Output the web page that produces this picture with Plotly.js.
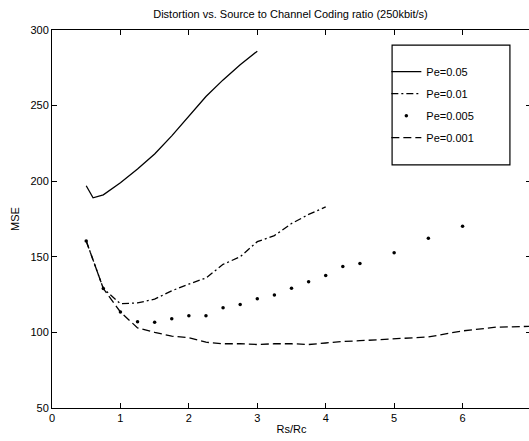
<!DOCTYPE html>
<html>
<head>
<meta charset="utf-8">
<script src="https://cdn.plot.ly/plotly-3.0.1.min.js"></script>
<style>
html,body{margin:0;padding:0;overflow:hidden;background:#fff;}
#chart{width:533px;height:441px;}
</style>
</head>
<body>
<div id="chart"></div>
<script>
// Data
const seriesNames = ["Pe=0.05", "Pe=0.01", "Pe=0.005", "Pe=0.001"];

const xPe005 = [0.5, 0.6, 0.75, 1.0, 1.25, 1.5, 1.75, 2.0, 2.25, 2.5, 2.75, 3.0];
const yPe005 = [197, 189, 191, 199, 208, 218, 230, 243, 256, 267, 277, 286];

const xPe001 = [0.5, 0.75, 1.0, 1.25, 1.5, 1.75, 2.0, 2.25, 2.5, 2.75, 3.0, 3.25, 3.5, 3.75, 4.0];
const yPe001 = [160.5, 129, 119, 119.5, 122, 127.5, 132, 136, 145, 150, 160, 164, 172, 178, 183];

const xPe0005 = [0.5, 0.75, 1.0, 1.25, 1.5, 1.75, 2.0, 2.25, 2.5, 2.75, 3.0, 3.25, 3.5, 3.75, 4.0, 4.25, 4.5, 5.0, 5.5, 6.0];
const yPe0005 = [160.5, 129, 113.5, 107, 106.7, 109, 111, 111, 116.3, 118.5, 122.2, 124.8, 129.2, 133.5, 137.6, 143.6, 145.5, 152.6, 162.3, 170.2];

const xPe0001 = [0.5, 0.75, 1.0, 1.25, 1.5, 1.75, 2.0, 2.25, 2.5, 2.75, 3.0, 3.25, 3.5, 3.75, 4.0, 4.25, 4.5, 5.0, 5.5, 6.0, 6.5, 7.0];
const yPe0001 = [160.5, 129, 113.5, 103, 100, 97.5, 96.5, 93.5, 92.5, 92.5, 92, 92.5, 92.5, 92, 93, 94, 94.5, 95.6, 97, 101, 103.5, 104];

const xTicks = [0, 1, 2, 3, 4, 5, 6, 7];
const yTicks = [50, 100, 150, 200, 250, 300];

const FONT = "Arial, 'Liberation Sans', Helvetica, sans-serif";

const traces = [
  {x: xPe005, y: yPe005, name: seriesNames[0], mode: "lines", legendgroup: "a",
   line: {color: "#000", width: 1.3}},
  {x: xPe001, y: yPe001, name: seriesNames[1], mode: "lines", legendgroup: "b",
   line: {color: "#000", width: 1.3, dash: "7px,3px,2px,3px"}},
  {x: xPe0005, y: yPe0005, name: seriesNames[2], mode: "markers", legendgroup: "c",
   marker: {color: "#000", size: 3.5}},
  {x: xPe0001, y: yPe0001, name: seriesNames[3], mode: "lines", legendgroup: "d",
   line: {color: "#000", width: 1.3, dash: "8px,4px"}}
];

const layout = {
  width: 533, height: 441,
  margin: {l: 52, r: 2, t: 30, b: 33},
  paper_bgcolor: "#fff", plot_bgcolor: "#fff",
  font: {family: FONT, size: 11, color: "#000"},
  title: {text: "Distortion vs. Source to Channel Coding ratio (250kbit/s)",
          font: {family: FONT, size: 11, color: "#000"}, x: 0.545, xanchor: "center", y: 0.968, yanchor: "middle"},
  showlegend: true,
  legend: {x: 0.698, y: 0.928, xanchor: "left", yanchor: "top", bgcolor: "rgba(0,0,0,0)",
           borderwidth: 0, traceorder: "grouped", tracegroupgap: 3,
           font: {family: FONT, size: 11, color: "#000"}},
  shapes: [{type: "rect", xref: "paper", yref: "paper", x0: 0.71, x1: 0.956, y0: 0.643, y1: 0.96,
            line: {color: "#000", width: 1.2}, fillcolor: "rgba(0,0,0,0)", layer: "above"}],
  xaxis: {range: [0, 7], tickvals: xTicks, ticktext: xTicks.map(String),
          ticks: "inside", ticklen: 5, tickcolor: "#000", showline: true, linecolor: "#000", linewidth: 1,
          mirror: "ticks", showgrid: false, zeroline: false,
          tickfont: {family: FONT, size: 11, color: "#000"},
          title: {text: "Rs/Rc", font: {family: FONT, size: 11, color: "#000"}, standoff: 2}},
  yaxis: {range: [50, 300], tickvals: yTicks, ticktext: yTicks.map(String),
          ticks: "inside", ticklen: 5, tickcolor: "#000", showline: true, linecolor: "#000", linewidth: 1,
          mirror: "ticks", showgrid: false, zeroline: false,
          tickfont: {family: FONT, size: 11, color: "#000"},
          title: {text: "MSE", font: {family: FONT, size: 11, color: "#000"}, standoff: 8}}
};

Plotly.newPlot("chart", traces, layout, {displayModeBar: false, staticPlot: true});
</script>
</body>
</html>
